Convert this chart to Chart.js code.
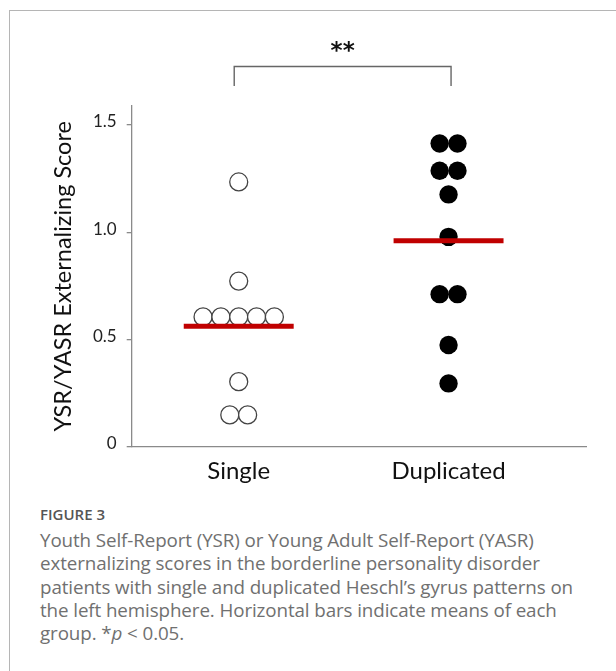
<!DOCTYPE html>
<html>
<head>
<meta charset="utf-8">
<script src="https://cdn.jsdelivr.net/npm/chart.js@4.4.0/dist/chart.umd.min.js"></script>
<style>
  html, body { margin: 0; padding: 0; background: #fff; }
  body { width: 616px; height: 671px; position: relative; overflow: hidden; }
  #frameTop { position: absolute; left: 9px; top: 10px; width: 607px; height: 1px; background: #b5b5b5; }
  #frameLeft { position: absolute; left: 9px; top: 10px; width: 1px; height: 661px; background: #b5b5b5; }
  #wrap { position: absolute; left: 0; top: 0; width: 616px; height: 500px; }
  #caption { position: absolute; left: 40px; top: 504px; font-family: "Open Sans", sans-serif; color: #707070; }
  #caption .fig { font-size: 15px; font-weight: 600; color: #555; margin-bottom: 5px; }
  #caption .txt { font-size: 18.8px; line-height: 23.3px; letter-spacing: -0.1px; }
</style>
</head>
<body>
<div id="frameTop"></div>
<div id="frameLeft"></div>
<div id="wrap"><canvas id="scores"></canvas></div>
<div id="caption">
  <div class="fig">FIGURE 3</div>
  <div class="txt">Youth Self-Report (YSR) or Young Adult Self-Report (YASR)<br>externalizing scores in the borderline personality disorder<br>patients with single and duplicated Heschl’s gyrus patterns on<br>the left hemisphere. Horizontal bars indicate means of each<br>group. *<i>p</i> &lt; 0.05.</div>
</div>
<script>
var groups = ['Single', 'Duplicated']
var singleScores = [1.234, 0.772, 0.605, 0.605, 0.605, 0.605, 0.605, 0.303, 0.148, 0.148]
var duplicatedScores = [1.413, 1.413, 1.286, 1.286, 1.176, 0.978, 0.711, 0.711, 0.474, 0.295]
var groupMeans = [0.561, 0.960]
var yTickValues = [0, 0.5, 1.0, 1.5]
var yTickLabels = ['0', '0.5', '1.0', '1.5']
var significance = '**'

var dotStep = 0.085   // spacing between tied points, x units
var meanHalf = 0.262  // half width of the mean bar

// spread tied values side by side around the group position
function swarm(scores, pos) {
  let counts = {}
  scores.forEach(s => { counts[s] = (counts[s] || 0) + 1 })
  let seen = {}
  return scores.map(s => {
    let n = counts[s]
    let i = seen[s] || 0
    seen[s] = i + 1
    return { x: pos + (i - (n - 1) / 2) * dotStep, y: s }
  })
}

function meanBar(m, pos) {
  return [{ x: pos - meanHalf, y: m }, { x: pos + meanHalf, y: m }]
}

var bracketPlugin = {
  id: 'bracket',
  afterDraw(chart) {
    let ctx = chart.ctx
    let xs = chart.scales.x
    let top = chart.chartArea.top
    let x1 = xs.getPixelForValue(1) - 4.5
    let x2 = xs.getPixelForValue(2) + 2.5
    let yLine = top - 39.5
    let yEnd = top - 20
    ctx.save()
    ctx.strokeStyle = '#666'
    ctx.lineWidth = 1.4
    ctx.beginPath()
    ctx.moveTo(x1, yEnd)
    ctx.lineTo(x1, yLine)
    ctx.lineTo(x2, yLine)
    ctx.lineTo(x2, yEnd)
    ctx.stroke()
    ctx.fillStyle = '#111'
    ctx.font = 'bold 23px "DejaVu Sans"'
    ctx.textAlign = 'center'
    ctx.textBaseline = 'middle'
    ctx.fillText(significance, (x1 + x2) / 2, top - 54)
    ctx.restore()
  }
}

var ctx = document.getElementById('scores')
var chart = new Chart(ctx, {
  type: 'scatter',
  data: {
    datasets: [
      { label: groups[0], data: swarm(singleScores, 1), pointRadius: 9, pointHoverRadius: 9,
        backgroundColor: '#fff', borderColor: '#444', borderWidth: 1.3, order: 1 },
      { label: groups[1], data: swarm(duplicatedScores, 2), pointRadius: 9.2, pointHoverRadius: 9.2,
        backgroundColor: '#000', borderColor: '#000', borderWidth: 0, order: 1 },
      { type: 'line', label: 'mean single', data: meanBar(groupMeans[0], 1), borderColor: '#c00000',
        borderWidth: 5, pointRadius: 0, borderCapStyle: 'butt', order: 0 },
      { type: 'line', label: 'mean duplicated', data: meanBar(groupMeans[1], 2), borderColor: '#c00000',
        borderWidth: 5, pointRadius: 0, borderCapStyle: 'butt', order: 0 }
    ]
  },
  options: {
    responsive: true,
    maintainAspectRatio: false,
    animation: false,
    layout: { padding: { top: 106, right: 30, left: 0, bottom: 0 } },
    plugins: { legend: { display: false }, tooltip: { enabled: false } },
    scales: {
      x: {
        type: 'linear',
        min: 0.49,
        max: 2.655,
        afterBuildTicks: (scale) => { scale.ticks = [{ value: 1 }, { value: 2 }] },
        afterFit: (scale) => { scale.height = 53.3 },
        ticks: {
          callback: (v) => groups[v - 1],
          color: '#111',
          font: { family: 'Lato', size: 24 },
          padding: 2
        },
        grid: { display: false },
        border: { display: true, color: '#8a8a8a', width: 1.3 }
      },
      y: {
        min: 0,
        max: 1.588,
        afterBuildTicks: (scale) => { scale.ticks = yTickValues.map(v => ({ value: v })) },
        afterFit: (scale) => { scale.width = 131.7 },
        ticks: {
          callback: (v) => yTickLabels[yTickValues.indexOf(v)],
          color: '#222',
          font: { family: 'Lato', size: 17 },
          padding: 10,
          labelOffset: -3
        },
        grid: { drawOnChartArea: false, drawTicks: true, tickLength: 5, color: '#8a8a8a', lineWidth: 1.3 },
        border: { display: true, color: '#8a8a8a', width: 1.3 },
        title: {
          display: true,
          text: 'YSR/YASR Externalizing Score',
          color: '#111',
          font: { family: 'Lato', size: 23.5 },
          padding: { top: 49, bottom: 0 }
        }
      }
    }
  },
  plugins: [bracketPlugin]
})
</script>
</body>
</html>
